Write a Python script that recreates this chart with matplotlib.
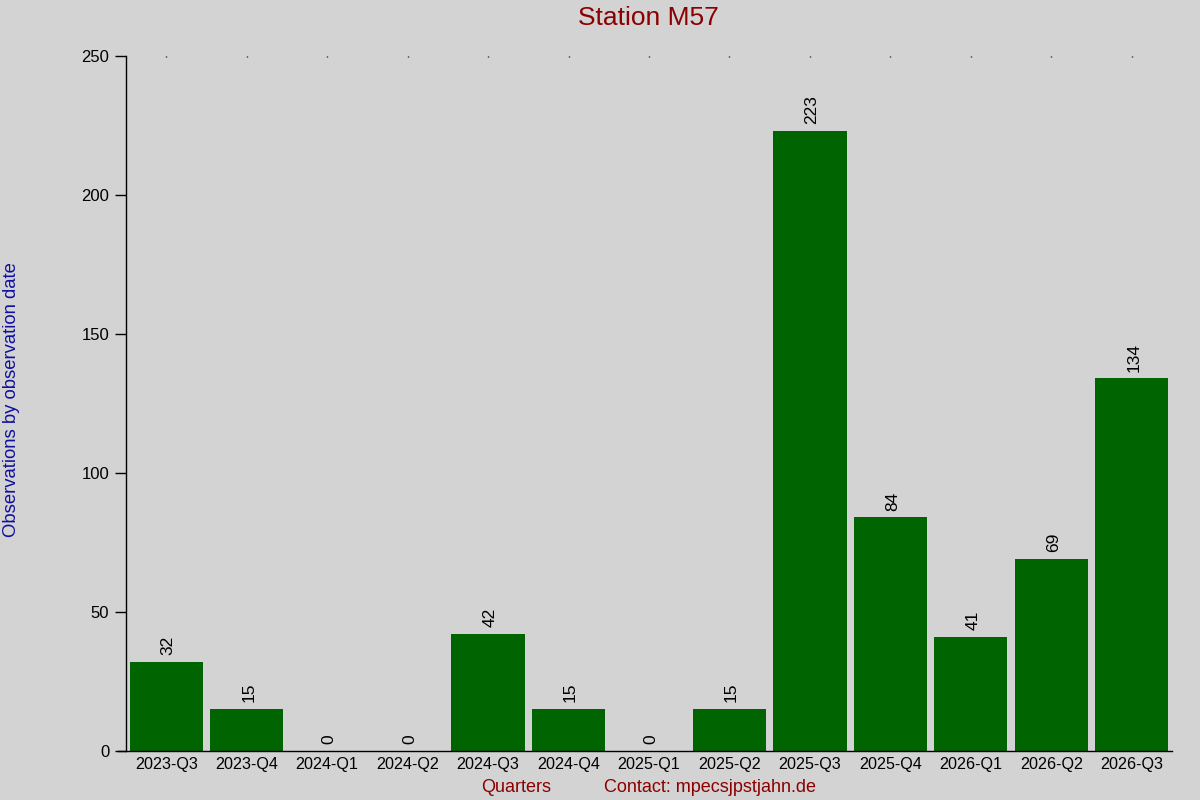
import matplotlib
matplotlib.use("Agg")
import matplotlib.pyplot as plt

categories = ["2023-Q3", "2023-Q4", "2024-Q1", "2024-Q2", "2024-Q3", "2024-Q4", "2025-Q1",
              "2025-Q2", "2025-Q3", "2025-Q4", "2026-Q1", "2026-Q2", "2026-Q3"]
values = [32, 15, 0, 0, 42, 15, 0, 15, 223, 84, 41, 69, 134]
y_ticks = [0, 50, 100, 150, 200, 250]

plt.rcParams['font.family'] = ['Liberation Sans', 'DejaVu Sans']
bg = '#d3d3d3'
fig = plt.figure(figsize=(12, 8), dpi=100, facecolor=bg)
ax = fig.add_axes([126/1200, 1 - 751/800, (1172-126)/1200, (751-56)/800])
ax.set_facecolor(bg)

x = list(range(len(categories)))
ax.bar(x, values, width=0.91, color='#006400')
for xi, v in zip(x, values):
    ax.annotate(str(v), (xi, v), xytext=(1.5, 5), textcoords='offset points',
                rotation=90, ha='center', va='bottom', fontsize=12.5, color='black')

ax.set_xlim(-0.5, len(categories) - 0.5)
ax.set_ylim(0, 250)
ax.set_yticks(y_ticks)
ax.set_xticks(x)
ax.set_xticklabels(categories)
ax.tick_params(axis='y', length=8, width=1, labelsize=12, pad=4)
ax.tick_params(axis='x', bottom=False, top=True, length=1, width=1, direction='in',
               labelsize=11.6, pad=4)
for s in ['top', 'right']:
    ax.spines[s].set_visible(False)
ax.spines['left'].set_linewidth(1)
ax.spines['bottom'].set_linewidth(1)
ax.spines['bottom'].set_bounds(-0.5 - 8/80.46, len(categories) - 0.5)

fig.text(648/1200, 1 - 18/800, "Station M57", ha='center', va='center', fontsize=19, color='#8b0000')
fig.text(12/1200, 0.5, "Observations by observation date", rotation=90, ha='center', va='center',
         fontsize=13.3, color='#1010a0')
fig.text(516/1200, 1 - 787/800, "Quarters", ha='center', va='center', fontsize=13, color='#8b0000')
fig.text(710/1200, 1 - 787/800, "Contact: mpecsjpstjahn.de", ha='center', va='center', fontsize=13, color='#8b0000')

fig.savefig("out.png", dpi=100, facecolor=bg)
